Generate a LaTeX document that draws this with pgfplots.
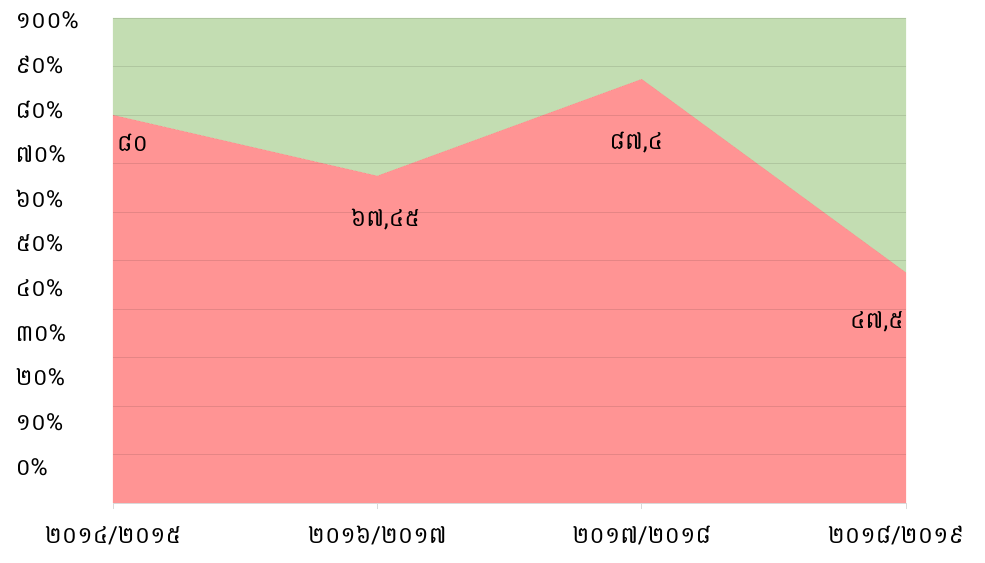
\documentclass[border=0pt]{standalone}
\usepackage{pgfplots}
\pgfplotsset{compat=1.18}
\usepackage{fontspec}
\newfontfamily\khmer[Script=Khmer]{Battambang}
\definecolor{gridc}{HTML}{D9D9D9}
\definecolor{exgreen}{HTML}{70AD47}
\tikzset{dl/.style={font=\khmer\fontsize{23.5}{26}\selectfont, text=black, inner sep=0pt}}
\begin{document}
\begin{tikzpicture}
\useasboundingbox (-113bp,-60bp) rectangle (872bp,503bp);
\begin{axis}[
  at={(0,0)}, anchor=south west,
  scale only axis, width=793bp, height=485bp,
  xmin=0, xmax=3, ymin=0, ymax=100,
  axis x line*=bottom, axis y line*=left,
  x axis line style={draw=gridc, line width=0.75pt},
  y axis line style={draw=none},
  xtick={0,1,2},
  xticklabels={២០១៤/២០១៥, ២០១៦/២០១៧, ២០១៧/២០១៨},
  extra x ticks={3}, extra x tick labels={២០១៨/២០១៩},
  extra x tick style={xticklabel style={xshift=-10bp}},
  ytick={0,10,...,100}, yticklabels={},
  ymajorgrids, grid style={black, opacity=0.1, line width=0.75pt},
  xtick style={draw=gridc, line width=0.75pt},
  tick align=outside, major tick length=6bp,
  ytick style={draw=none},
  extra y ticks={7.42,16.64,25.85,35.07,44.28,53.5,62.72,71.93,81.15,90.36,99.58},
  extra y tick labels={០\%,១០\%,២០\%,៣០\%,៤០\%,៥០\%,៦០\%,៧០\%,៨០\%,៩០\%,១០០\%},
  extra y tick style={grid=none, yticklabel style={anchor=west, xshift=-95bp}},
  ticklabel style={font=\khmer\fontsize{23.5}{26}\selectfont, text=black},
  xticklabel style={yshift=-14bp},
  stack plots=y, area style,
]
\addplot[fill=red, fill opacity=0.42, draw=none] coordinates {(0,80) (1,67.45) (2,87.4) (3,47.5)} \closedcycle;
\addplot[fill=exgreen, fill opacity=0.42, draw=none] coordinates {(0,20) (1,32.55) (2,12.6) (3,52.5)} \closedcycle;
\coordinate (l1) at (axis cs:0.015,74.2);
\coordinate (l2) at (axis cs:1.03,58.4);
\coordinate (l3) at (axis cs:1.98,74.4);
\coordinate (l4) at (axis cs:2.89,37.3);
\end{axis}
\node[dl, anchor=west] at (l1) {៨០};
\node[dl] at (l2) {៦៧,៤៥};
\node[dl] at (l3) {៨៧,៤};
\node[dl] at (l4) {៤៧,៥};
\end{tikzpicture}
\end{document}
